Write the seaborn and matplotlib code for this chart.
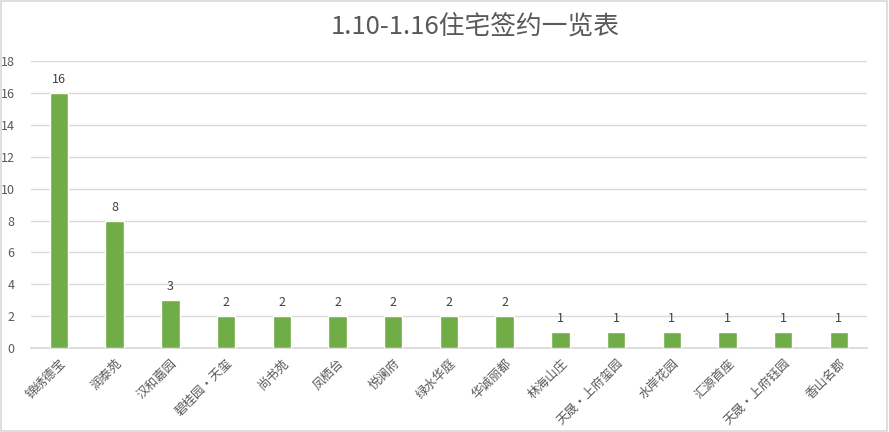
import matplotlib
matplotlib.use('Agg')
import matplotlib.pyplot as plt
import seaborn as sns
import pandas as pd

projects = ['锦绣德宝', '润泰苑', '汉和嘉园', '碧桂园·天玺', '尚书苑', '凤栖台', '悦澜府',
            '绿水华庭', '华诚丽都', '林海山庄', '天晟·上府玺园', '水岸花园', '汇源首座',
            '天晟·上府钰园', '香山名郡']
signed = [16, 8, 3, 2, 2, 2, 2, 2, 2, 1, 1, 1, 1, 1, 1]
title = '1.10-1.16住宅签约一览表'
y_ticks = list(range(0, 20, 2))

sns.set_theme(style='white')
plt.rcParams['font.family'] = ['Noto Sans CJK SC', 'DejaVu Sans']

df = pd.DataFrame({'project': projects, 'signed': signed})

fig = plt.figure(figsize=(8.89, 4.32), dpi=100)
ax = fig.add_axes([0.035, 0.194, 0.940, 0.665])

sns.barplot(data=df, x='project', y='signed', color='#70AD47', width=0.33,
            saturation=1, ax=ax, zorder=3)

ax.set_ylim(0, 18)
ax.set_yticks(y_ticks)
ax.set_xlim(-0.5, len(projects) - 0.5)
ax.grid(axis='y', color='#D9D9D9', linewidth=1, zorder=0)
for s in ['top', 'right', 'left']:
    ax.spines[s].set_visible(False)
ax.spines['bottom'].set_color('#D9D9D9')
ax.tick_params(axis='both', length=0, colors='#595959', labelsize=9)
ax.tick_params(axis='y', pad=12)
ax.tick_params(axis='x', pad=6)
plt.setp(ax.get_xticklabels(), rotation=45, ha='right', rotation_mode='anchor')
ax.set_xlabel('')
ax.set_ylabel('')

for c in ax.containers:
    ax.bar_label(c, padding=5, fontsize=9, color='#404040')

fig.text(0.535, 0.935, title, ha='center', va='center', fontsize=18.5, color='#595959')

border = plt.Rectangle((0.001, 0.002), 0.997, 0.996, transform=fig.transFigure,
                       fill=False, edgecolor='#D9D9D9', linewidth=1.2)
fig.patches.append(border)

fig.savefig('out.png', dpi=100)
plt.close(fig)
